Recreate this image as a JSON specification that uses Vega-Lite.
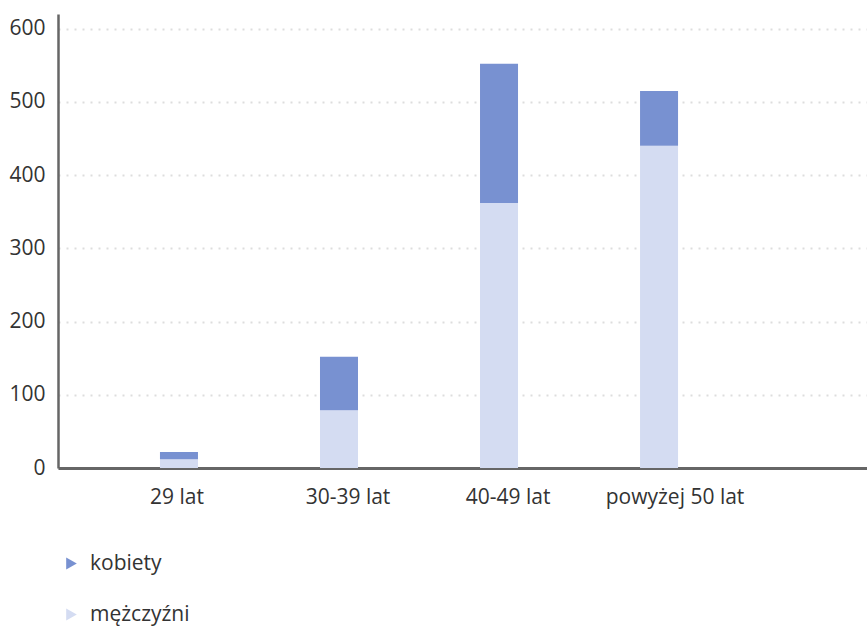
{
  "$schema": "https://vega.github.io/schema/vega-lite/v6.json",
  "autosize": {"type": "none"},
  "padding": {"left": 58, "top": 14, "right": 0, "bottom": 158},
  "width": 809,
  "height": 454,
  "background": "white",
  "config": {
    "view": {"stroke": null},
    "font": "Open Sans",
    "axis": {"labelFont": "Open Sans", "labelFontSize": 21, "labelColor": "#333333", "domainColor": "#666666", "ticks": false, "title": null}
  },
  "data": {
    "values": [
      {"wiek": "29 lat", "plec": "mężczyźni", "liczba": 12, "o": 1},
      {"wiek": "29 lat", "plec": "kobiety", "liczba": 10, "o": 2},
      {"wiek": "30-39 lat", "plec": "mężczyźni", "liczba": 79, "o": 1},
      {"wiek": "30-39 lat", "plec": "kobiety", "liczba": 73, "o": 2},
      {"wiek": "40-49 lat", "plec": "mężczyźni", "liczba": 362, "o": 1},
      {"wiek": "40-49 lat", "plec": "kobiety", "liczba": 190, "o": 2},
      {"wiek": "powyżej 50 lat", "plec": "mężczyźni", "liczba": 440, "o": 1},
      {"wiek": "powyżej 50 lat", "plec": "kobiety", "liczba": 75, "o": 2}
    ]
  },
  "mark": {"type": "bar"},
  "encoding": {
    "x": {
      "field": "wiek",
      "type": "nominal",
      "sort": ["29 lat", "30-39 lat", "40-49 lat", "powyżej 50 lat"],
      "scale": {"paddingInner": 0.7625, "paddingOuter": 0.909, "align": 0.3505, "round": false},
      "axis": {
        "labelAngle": 0,
        "labelPadding": 18,
        "labelOffset": {"expr": "datum.value === '29 lat' ? -2 : datum.value === 'powyżej 50 lat' ? 16 : 9"},
        "domainWidth": 3,
        "grid": false
      }
    },
    "y": {
      "field": "liczba",
      "type": "quantitative",
      "stack": "zero",
      "scale": {"domain": [0, 620], "nice": false},
      "axis": {
        "values": [0, 100, 200, 300, 400, 500, 600],
        "labelPadding": 13,
        "domainWidth": 2.5,
        "grid": true,
        "gridColor": "#dddddd",
        "gridWidth": 2,
        "gridDash": [2, 6]
      }
    },
    "color": {
      "field": "plec",
      "type": "nominal",
      "scale": {"domain": ["kobiety", "mężczyźni"], "range": ["#7891d1", "#d4dcf2"]},
      "legend": {
        "title": null,
        "orient": "none",
        "legendX": 3,
        "legendY": 539,
        "direction": "vertical",
        "symbolType": "triangle-right",
        "symbolSize": 150,
        "symbolStrokeWidth": 0,
        "labelFont": "Open Sans",
        "labelFontSize": 21,
        "labelColor": "#333333",
        "labelOffset": 8,
        "rowPadding": 29,
        "padding": 0
      }
    },
    "order": {"field": "o", "type": "quantitative"}
  }
}
